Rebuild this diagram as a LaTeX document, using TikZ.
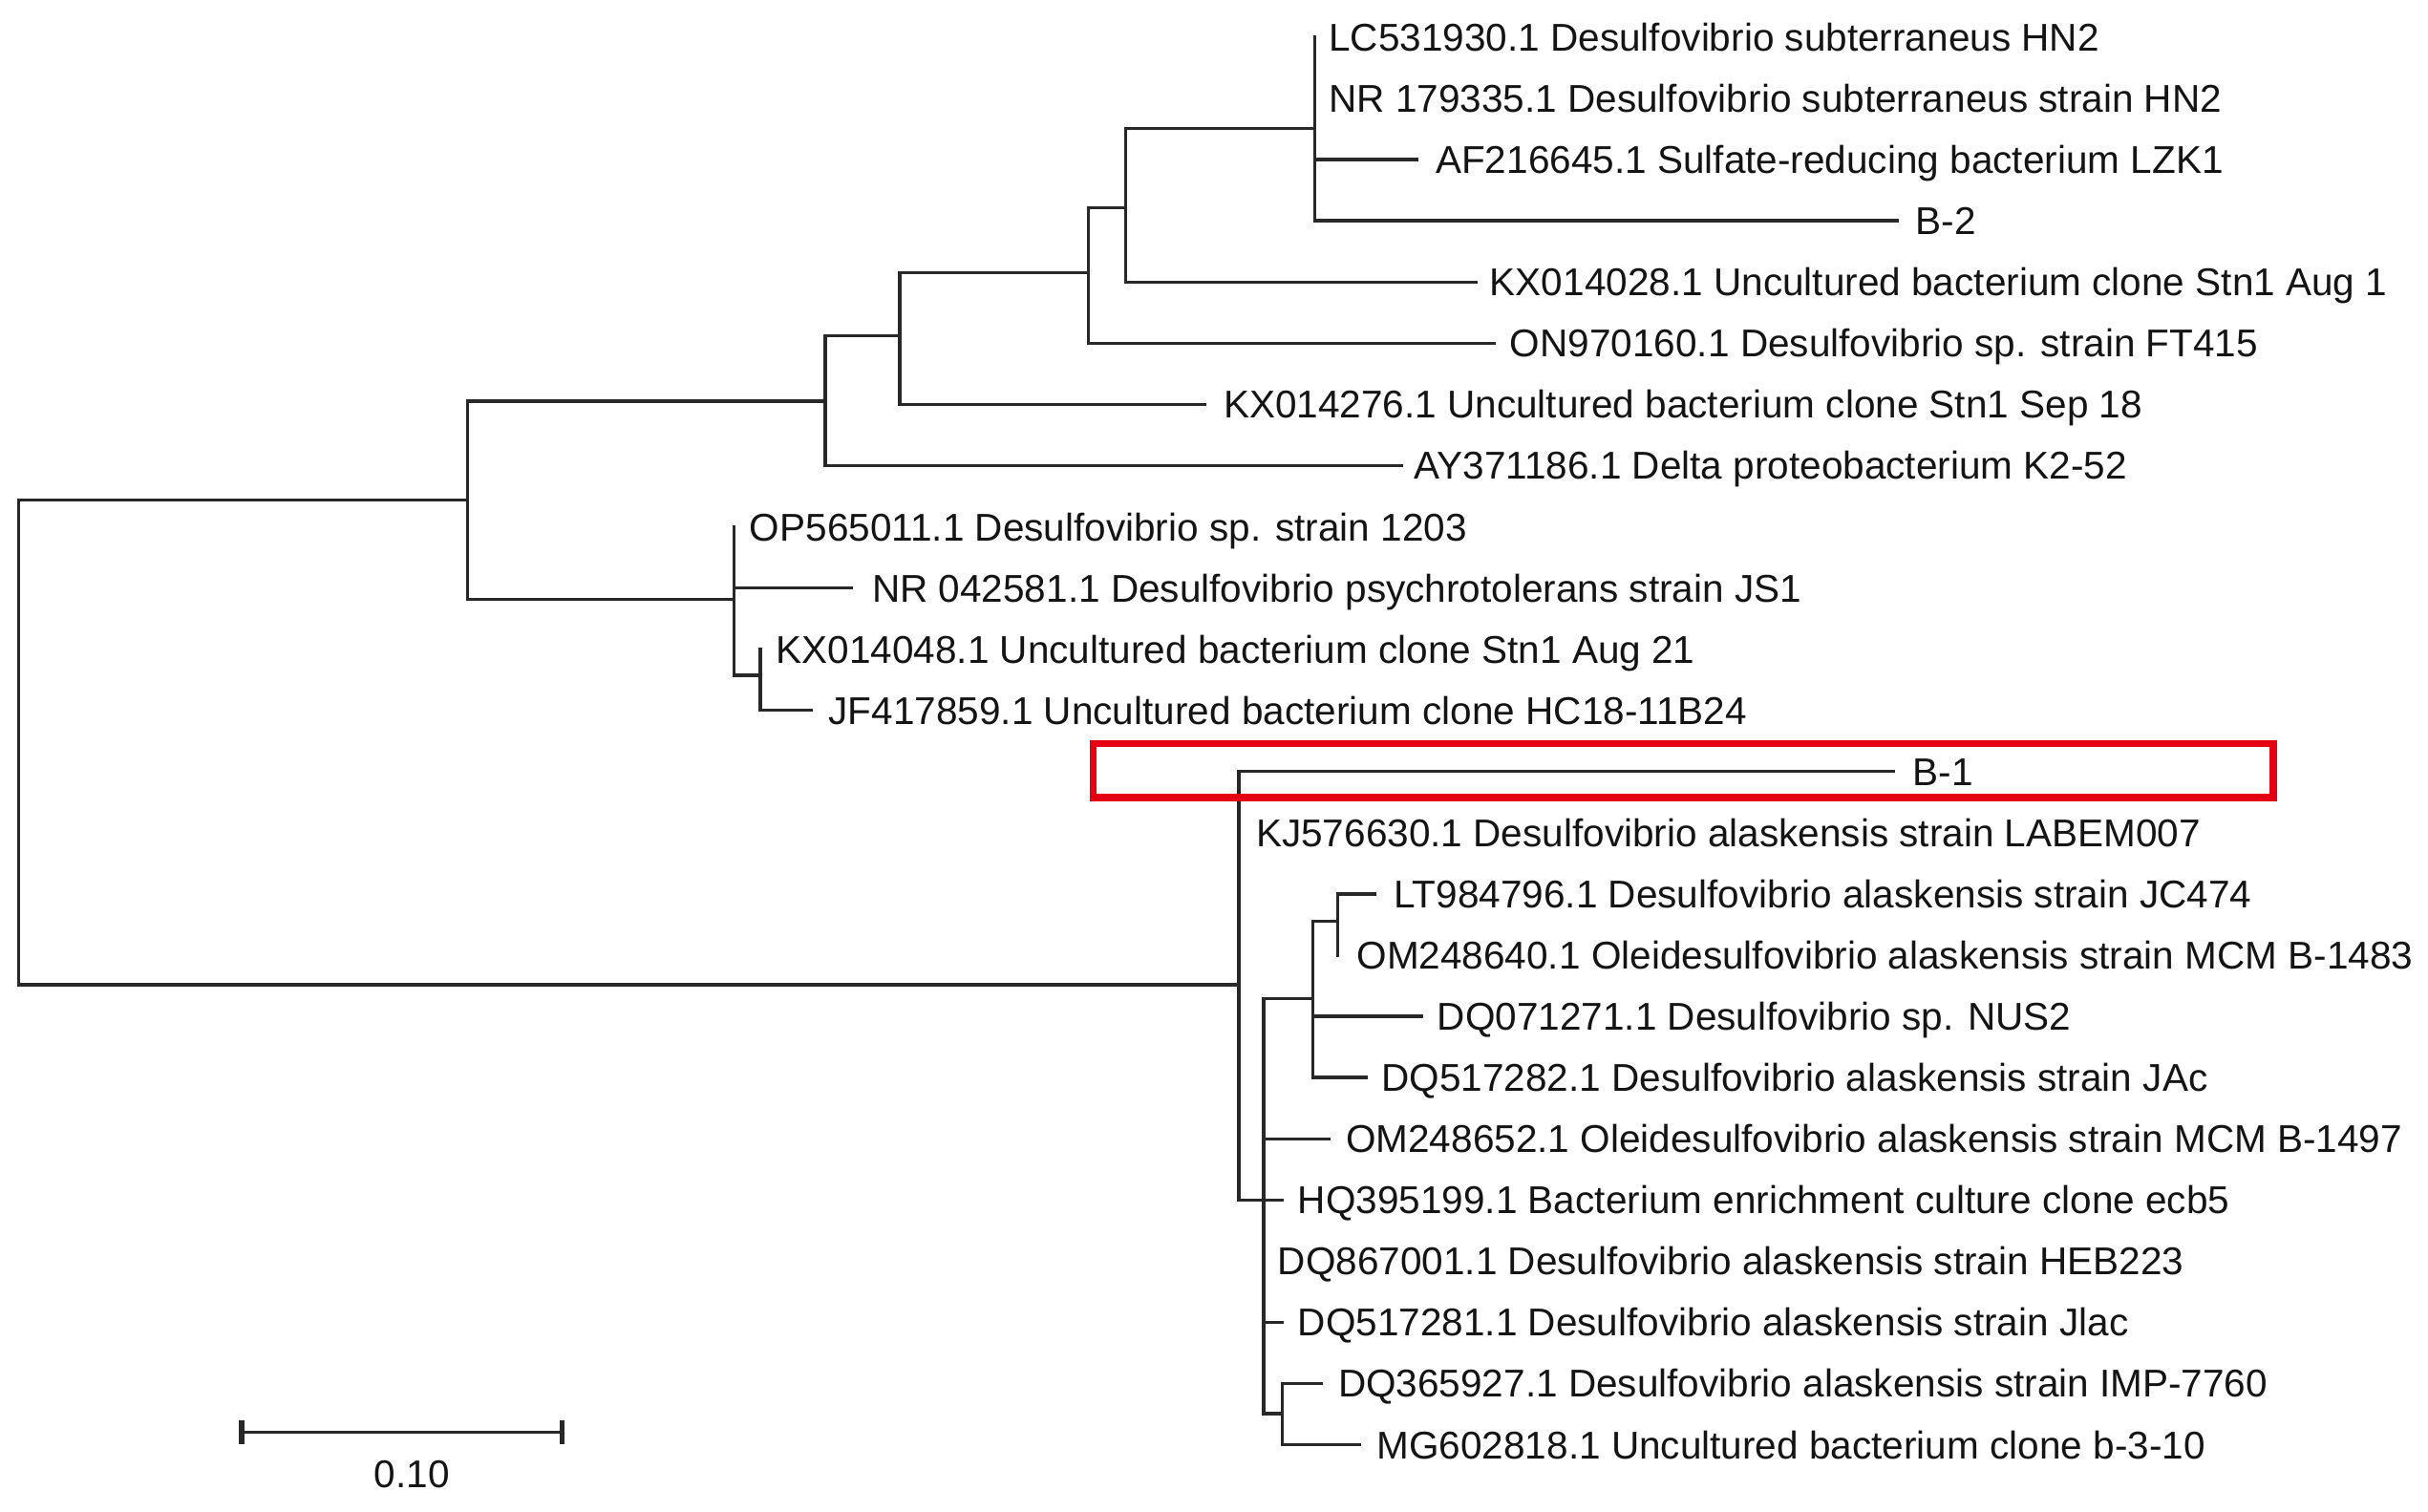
\documentclass[tikz,border=0pt]{standalone}
\usepackage{fontspec}
\setmainfont{Liberation Sans}
\definecolor{treeline}{RGB}{40,40,40}
\definecolor{txt}{RGB}{20,20,20}
\definecolor{hlred}{RGB}{228,0,18}
\begin{document}
\begin{tikzpicture}[x=1pt,y=-1pt,
  branch/.style={draw=treeline,line width=2.1pt,line cap=rect},
  lab/.style={anchor=base west,inner sep=0pt,yshift=-9pt,text=txt,font=\fontsize{25}{30}\selectfont},
  sblab/.style={anchor=base,inner sep=0pt,yshift=-9pt,text=txt,font=\fontsize{25}{30}\selectfont},
  scalebar/.style={draw=treeline,line width=2.2pt},
  sbtick/.style={draw=treeline,line width=3.6pt},
  redbox/.style={draw=hlred,line width=4.5pt}]
\useasboundingbox (0,0) rectangle (1568,976);
% internal nodes
\coordinate (R) at (12,323);
\coordinate (n1) at (302,323);
\coordinate (n2) at (533,259);
\coordinate (n3) at (581,217);
\coordinate (n4) at (703,176);
\coordinate (n5) at (727,134);
\coordinate (n6) at (849,83);
\coordinate (n7) at (474,387);
\coordinate (n8) at (491,436);
\coordinate (A) at (800,636);
\coordinate (B) at (816,774.9);
\coordinate (C) at (848,645);
\coordinate (E) at (864,595);
\coordinate (D) at (828,913);
% leaf ends
\coordinate (e0) at (849,24);
\coordinate (e1) at (849,63.5);
\coordinate (e2) at (915,103);
\coordinate (e3) at (1225,142.6);
\coordinate (e4) at (953,182.1);
\coordinate (e5) at (965,221.6);
\coordinate (e6) at (778,261.1);
\coordinate (e7) at (905,300.6);
\coordinate (e8) at (474,340.2);
\coordinate (e9) at (550,379.7);
\coordinate (e10) at (491,419.2);
\coordinate (e11) at (524,458.7);
\coordinate (e12) at (1223,498.2);
\coordinate (e13) at (800,537.8);
\coordinate (e14) at (888,577.3);
\coordinate (e15) at (864,616.8);
\coordinate (e16) at (918,656.3);
\coordinate (e17) at (882,695.8);
\coordinate (e18) at (858,735.4);
\coordinate (e19) at (828,774.9);
\coordinate (e20) at (816,814.4);
\coordinate (e21) at (828,853.9);
\coordinate (e22) at (853,893.4);
\coordinate (e23) at (878,933);
% branches
\draw[branch] (R) -- (n1);
\draw[branch] (R) |- (A);
\draw[branch] (n1) |- (n2);
\draw[branch] (n1) |- (n7);
\draw[branch] (n2) |- (n3);
\draw[branch] (n2) |- (e7);
\draw[branch] (n3) |- (n4);
\draw[branch] (n3) |- (e6);
\draw[branch] (n4) |- (n5);
\draw[branch] (n4) |- (e5);
\draw[branch] (n5) |- (n6);
\draw[branch] (n5) |- (e4);
\draw[branch] (n6) |- (e0);
\draw[branch] (n6) |- (e1);
\draw[branch] (n6) |- (e2);
\draw[branch] (n6) |- (e3);
\draw[branch] (n7) |- (e8);
\draw[branch] (n7) |- (e9);
\draw[branch] (n7) |- (n8);
\draw[branch] (n8) |- (e10);
\draw[branch] (n8) |- (e11);
\draw[branch] (A) |- (e12);
\draw[branch] (A) |- (e13);
\draw[branch] (A) |- (B);
\draw[branch] (B) |- (C);
\draw[branch] (B) |- (e18);
\draw[branch] (B) |- (e19);
\draw[branch] (B) |- (e20);
\draw[branch] (B) |- (e21);
\draw[branch] (B) |- (D);
\draw[branch] (C) |- (E);
\draw[branch] (C) |- (e16);
\draw[branch] (C) |- (e17);
\draw[branch] (E) |- (e14);
\draw[branch] (E) |- (e15);
\draw[branch] (D) |- (e22);
\draw[branch] (D) |- (e23);
% labels
\node[lab] (t0) at (858,24) {LC531930.1 Desulfovibrio subterraneus HN2};
\node[lab] (t1) at (858,63.5) {NR 179335.1 Desulfovibrio subterraneus strain HN2};
\node[lab] (t2) at (927,103) {AF216645.1 Sulfate-reducing bacterium LZK1};
\node[lab] (t3) at (1237,142.6) {B-2};
\node[lab] (t4) at (962,182.1) {KX014028.1 Uncultured bacterium clone Stn1 Aug 1};
\node[lab] (t5) at (975,221.6) {ON970160.1 Desulfovibrio sp. strain FT415};
\node[lab] (t6) at (790,261.1) {KX014276.1 Uncultured bacterium clone Stn1 Sep 18};
\node[lab] (t7) at (913,300.6) {AY371186.1 Delta proteobacterium K2-52};
\node[lab] (t8) at (484,340.2) {OP565011.1 Desulfovibrio sp. strain 1203};
\node[lab] (t9) at (563,379.7) {NR 042581.1 Desulfovibrio psychrotolerans strain JS1};
\node[lab] (t10) at (501,419.2) {KX014048.1 Uncultured bacterium clone Stn1 Aug 21};
\node[lab] (t11) at (535,458.7) {JF417859.1 Uncultured bacterium clone HC18-11B24};
\node[lab] (t12) at (1235,498.2) {B-1};
\node[lab] (t13) at (811,537.8) {KJ576630.1 Desulfovibrio alaskensis strain LABEM007};
\node[lab] (t14) at (900,577.3) {LT984796.1 Desulfovibrio alaskensis strain JC474};
\node[lab] (t15) at (876,616.8) {OM248640.1 Oleidesulfovibrio alaskensis strain MCM B-1483};
\node[lab] (t16) at (928,656.3) {DQ071271.1 Desulfovibrio sp. NUS2};
\node[lab] (t17) at (892,695.8) {DQ517282.1 Desulfovibrio alaskensis strain JAc};
\node[lab] (t18) at (869,735.4) {OM248652.1 Oleidesulfovibrio alaskensis strain MCM B-1497};
\node[lab] (t19) at (838,774.9) {HQ395199.1 Bacterium enrichment culture clone ecb5};
\node[lab] (t20) at (825,814.4) {DQ867001.1 Desulfovibrio alaskensis strain HEB223};
\node[lab] (t21) at (838,853.9) {DQ517281.1 Desulfovibrio alaskensis strain Jlac};
\node[lab] (t22) at (864,893.4) {DQ365927.1 Desulfovibrio alaskensis strain IMP-7760};
\node[lab] (t23) at (889,933) {MG602818.1 Uncultured bacterium clone b-3-10};
% highlight box
\coordinate (bx1) at (706,480);
\coordinate (bx2) at (1468,515);
\draw[redbox] (bx1) rectangle (bx2);
% scale bar
\coordinate (s1) at (156,925);
\coordinate (s2) at (363,925);
\draw[scalebar] (s1) -- (s2);
\draw[sbtick] ([yshift=7.5pt]s1) -- ([yshift=-7.5pt]s1);
\draw[sbtick] ([yshift=7.5pt]s2) -- ([yshift=-7.5pt]s2);
\node[sblab] (sl) at (266,952) {0.10};
\end{tikzpicture}
\end{document}
